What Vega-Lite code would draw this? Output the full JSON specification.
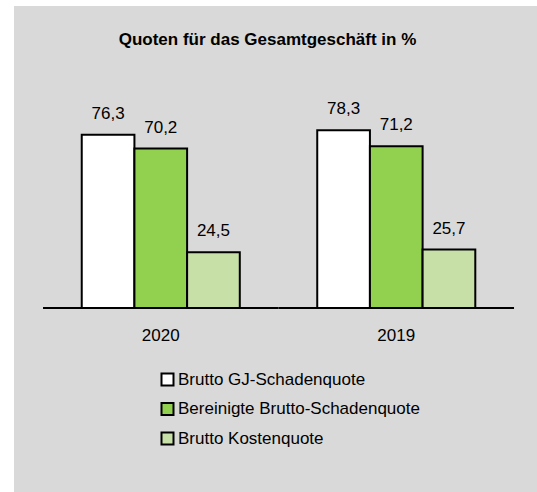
{
  "$schema": "https://vega.github.io/schema/vega-lite/v6.json",
  "autosize": {"type": "none"},
  "padding": {"left": 14, "top": 6, "right": 0, "bottom": 0},
  "width": 523,
  "height": 486,
  "background": "white",
  "config": {
    "view": {"fill": "#d9d9d9", "stroke": null},
    "font": "Liberation Sans",
    "text": {"font": "Liberation Sans"}
  },
  "title": {
    "text": "Quoten für das Gesamtgeschäft in %",
    "font": "Liberation Sans",
    "fontSize": 17,
    "fontWeight": "bold",
    "color": "#000000",
    "anchor": "middle",
    "frame": "group",
    "dx": -8,
    "offset": -56,
    "baseline": "alphabetic"
  },
  "datasets": {
    "quoten": [
      {"Jahr": "2020", "Quote": "Brutto GJ-Schadenquote", "Wert": 76.3},
      {"Jahr": "2020", "Quote": "Bereinigte Brutto-Schadenquote", "Wert": 70.2},
      {"Jahr": "2020", "Quote": "Brutto Kostenquote", "Wert": 24.5},
      {"Jahr": "2019", "Quote": "Brutto GJ-Schadenquote", "Wert": 78.3},
      {"Jahr": "2019", "Quote": "Bereinigte Brutto-Schadenquote", "Wert": 71.2},
      {"Jahr": "2019", "Quote": "Brutto Kostenquote", "Wert": 25.7}
    ],
    "jahre": [{"Jahr": "2020"}, {"Jahr": "2019"}]
  },
  "layer": [
    {
      "data": {"name": "quoten"},
      "mark": {"type": "bar", "stroke": "#000000", "strokeWidth": 2},
      "encoding": {
        "x": {
          "field": "Jahr", "type": "nominal", "sort": ["2020", "2019"],
          "scale": {"paddingInner": 0, "paddingOuter": 0.1104, "align": 0.558},
          "axis": {"title": null, "domain": false, "ticks": false, "tickSize": 0, "labelAngle": 0,
                   "labelFontSize": 17, "labelFont": "Liberation Sans", "labelColor": "#000000",
                   "labelPadding": 19, "offset": -184}
        },
        "xOffset": {
          "field": "Quote", "type": "nominal",
          "sort": ["Brutto GJ-Schadenquote", "Bereinigte Brutto-Schadenquote", "Brutto Kostenquote"],
          "scale": {"paddingInner": 0, "paddingOuter": 0.735}
        },
        "y": {
          "field": "Wert", "type": "quantitative",
          "scale": {"domain": [-81.1, 133.0], "nice": false, "zero": false},
          "axis": null
        },
        "color": {
          "field": "Quote", "type": "nominal",
          "scale": {
            "domain": ["Brutto GJ-Schadenquote", "Bereinigte Brutto-Schadenquote", "Brutto Kostenquote"],
            "range": ["#ffffff", "#92d050", "#c6e0a8"]
          },
          "legend": {
            "title": null, "orient": "none", "legendX": 145, "legendY": 365,
            "padding": 0, "symbolType": "square", "symbolSize": 144,
            "symbolStrokeColor": "#000000", "symbolStrokeWidth": 2, "symbolOpacity": 1,
            "labelFontSize": 17, "labelFont": "Liberation Sans", "labelColor": "#000000",
            "labelOffset": 2, "rowPadding": 8.5, "labelLimit": 400
          }
        }
      }
    },
    {
      "data": {"name": "quoten"},
      "transform": [{"calculate": "replace(format(datum.Wert, '.1f'), '.', ',')", "as": "Label"}],
      "mark": {"type": "text", "dy": -16, "baseline": "alphabetic", "fontSize": 17, "color": "#000000", "font": "Liberation Sans"},
      "encoding": {
        "x": {"field": "Jahr", "type": "nominal", "sort": ["2020", "2019"]},
        "xOffset": {"field": "Quote", "type": "nominal",
          "sort": ["Brutto GJ-Schadenquote", "Bereinigte Brutto-Schadenquote", "Brutto Kostenquote"]},
        "y": {"field": "Wert", "type": "quantitative"},
        "text": {"field": "Label"}
      }
    },
    {
      "data": {"name": "jahre"},
      "mark": {"type": "rule", "color": "#000000", "strokeWidth": 2},
      "encoding": {
        "x": {"field": "Jahr", "type": "nominal", "sort": ["2020", "2019"], "bandPosition": 0},
        "x2": {"field": "Jahr", "bandPosition": 1},
        "y": {"datum": 0}
      }
    }
  ]
}
